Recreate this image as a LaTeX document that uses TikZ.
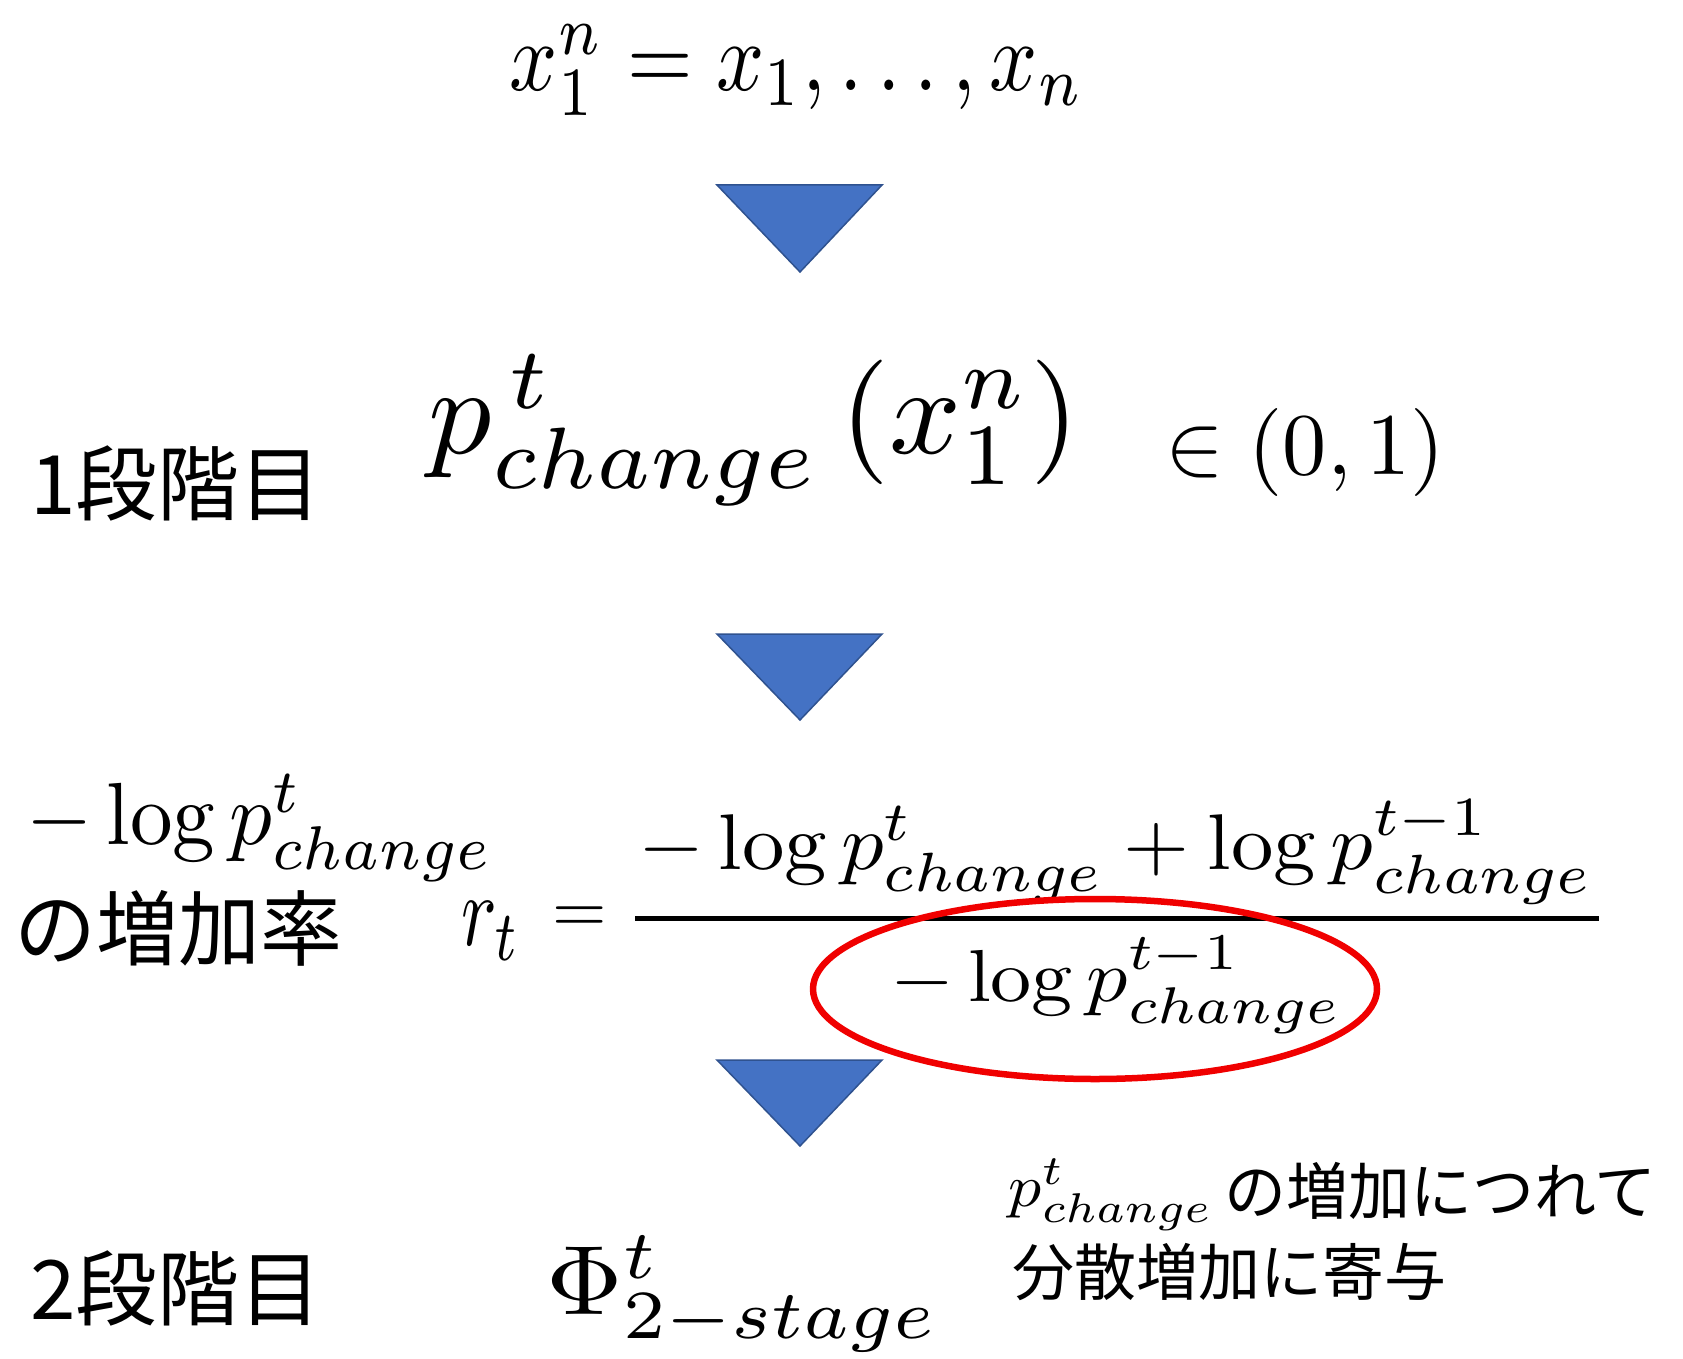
\documentclass[tikz,border=0pt]{standalone}
\usepackage{fontspec}
\usepackage{amsmath}
\usepackage{graphicx}
\newfontfamily\jp{Noto Sans CJK JP}
\definecolor{triblue}{HTML}{4472C4}
\definecolor{triedge}{HTML}{2F528F}
\definecolor{ringred}{HTML}{F00000}
\begin{document}
\begin{tikzpicture}[x=1pt,y=-1pt,
  every node/.style={inner sep=0pt, outer sep=0pt},
  tri/.style={fill=triblue, draw=triedge, line width=1.5pt, line join=miter},
  jptext/.style={font=\jp\fontsize{82}{98}\selectfont, anchor=west},
  notetext/.style={font=\jp\fontsize{62}{74}\selectfont, anchor=west}]
\useasboundingbox (0,0) rectangle (1683,1359);

% top formula
\node (top) at (797,70) {\resizebox*{574pt}{90pt}{$x_1^n = x_1,\ldots,x_n$}};
\draw[tri] (717,185) -- (882,185) -- (800,272) -- cycle;

% stage 1
\node[jptext] (s1) at (30,483) {1段階目};
\node (pc) at (754,430) {\resizebox*{650pt}{151pt}{$p^{\,t}_{change}\left(x_1^{n}\right)$}};
\node (in) at (1305,452) {\resizebox*{279pt}{88pt}{$\in (0,1)$}};
\draw[tri] (717,634) -- (882,634) -- (800,720) -- cycle;

% growth rate
\node (lp) at (260,828) {\resizebox*{467pt}{107pt}{$-\log p^t_{change}$}};
\node[jptext] (zk) at (14,928) {の増加率};
\node (rt) at (491,931) {\resizebox*{60pt}{59pt}{$r_t$}};
\node (eq) at (580,920) {\scalebox{7}{$=$}};
\node (num) at (1116,852) {\resizebox*{955pt}{104pt}{$-\log p^t_{change} + \log p^{t-1}_{change}$}};
\draw[line width=5pt] (635,918) -- (1599,918);
\node (den) at (1116,985) {\resizebox*{451pt}{97pt}{$-\log p^{t-1}_{change}$}};
\draw[ringred, line width=6.5pt] (1095,989) ellipse [x radius=282, y radius=90];
\draw[tri] (717,1060) -- (882,1060) -- (800,1146) -- cycle;

% stage 2
\node[jptext] (s2) at (30,1288) {2段階目};
\node (phi) at (743,1294) {\resizebox*{392pt}{116pt}{$\Phi^t_{2-stage}$}};

% note
\node (np) at (1111,1195) {\resizebox*{204pt}{72pt}{$p^t_{change}$}};
\node[notetext] (n1) at (1224,1191) {の増加につれて};
\node[notetext] (n2) at (1012,1272) {分散増加に寄与};
\end{tikzpicture}
\end{document}
